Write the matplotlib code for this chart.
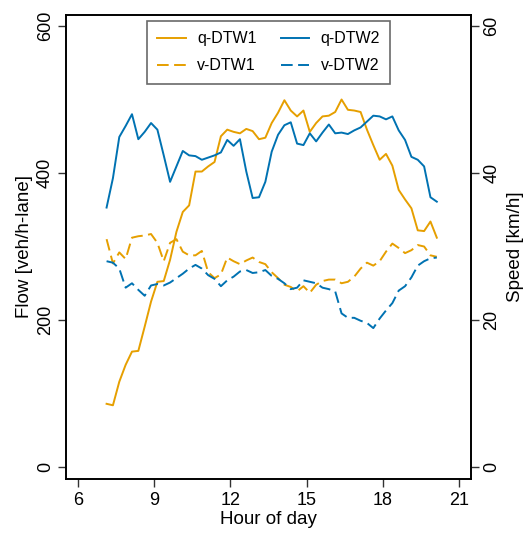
import matplotlib.pyplot as plt
import numpy as np

plt.rcParams['font.family'] = ['Liberation Sans', 'DejaVu Sans']

# 15-minute bins from 7:00 to 20:15, plotted at the bin midpoints
hours = 7.125 + np.arange(53) * 0.25

# flow [veh/h-lane]
q_dtw1 = [86, 84, 116, 139, 157, 158, 191, 225, 252, 253, 282, 320, 347, 356,
          402, 402, 409, 415, 450, 459, 456, 454, 460, 457, 446, 448, 468, 482,
          499, 485, 477, 485, 456, 468, 477, 478, 483, 500, 486, 485, 483, 459,
          438, 418, 426, 410, 377, 364, 352, 322, 321, 334, 312]
q_dtw2 = [353, 393, 449, 464, 480, 446, 456, 468, 459, 424, 388, 409, 430, 424,
          423, 418, 421, 424, 428, 445, 437, 446, 402, 366, 367, 388, 429, 452,
          465, 469, 440, 438, 454, 443, 455, 466, 454, 455, 453, 458, 462, 470,
          478, 477, 473, 477, 458, 445, 422, 418, 409, 367, 361]

# speed [km/h]
v_dtw1 = [31.0, 27.7, 29.2, 28.3, 31.2, 31.4, 31.5, 31.7, 30.5, 28.0, 30.5,
          31.0, 29.3, 28.8, 28.8, 29.4, 26.5, 25.7, 26.2, 28.5, 28.0, 27.6,
          28.1, 28.5, 27.9, 27.6, 26.5, 25.7, 24.8, 24.5, 23.9, 24.6, 23.7,
          24.8, 25.3, 25.5, 25.5, 25.0, 25.2, 25.9, 27.0, 27.8, 27.4, 28.0,
          29.3, 30.4, 29.8, 29.1, 29.5, 30.2, 30.0, 28.8, 28.6]
v_dtw2 = [28.0, 27.8, 27.0, 24.4, 25.0, 24.1, 23.3, 24.7, 24.9, 24.7, 25.1,
          25.7, 26.3, 27.0, 27.5, 27.0, 26.1, 25.6, 24.6, 25.4, 25.9, 26.6,
          26.8, 26.4, 26.5, 26.8, 26.0, 25.6, 25.0, 24.2, 24.4, 25.4, 25.2,
          25.0, 24.4, 24.2, 23.9, 20.9, 20.3, 20.3, 19.9, 19.6, 18.9, 20.2,
          21.3, 22.3, 24.0, 24.6, 25.8, 27.4, 28.0, 28.4, 28.5]

orange = '#E69F00'
blue = '#0072B2'
dash = (6, 2.8)

fig = plt.figure(figsize=(5.28, 5.33), dpi=100)
ax = fig.add_axes([0.1256, 0.1013, 0.7664, 0.8706])
ax2 = ax.twinx()

l1, = ax.plot(hours, q_dtw1, color=orange, lw=1.4)
l2, = ax.plot(hours, q_dtw2, color=blue, lw=1.4)
l3, = ax2.plot(hours, v_dtw1, color=orange, lw=1.4, dashes=dash)
l4, = ax2.plot(hours, v_dtw2, color=blue, lw=1.4, dashes=dash)

ax.set_xlim(5.54, 21.47)
ax.set_ylim(-16.3, 615)
ax2.set_ylim(-1.63, 61.5)
ax.set_xticks([6, 9, 12, 15, 18, 21])
ax.set_yticks([0, 200, 400, 600])
ax2.set_yticks([0, 20, 40, 60])

for a in (ax, ax2):
    a.tick_params(labelsize=13, length=6, width=1, color='#333333')
    for s in a.spines.values():
        s.set_linewidth(1.2)
ax.tick_params(axis='y', labelrotation=90, pad=3)
ax2.tick_params(axis='y', labelrotation=90, pad=3)
for t in ax.get_yticklabels() + ax2.get_yticklabels():
    t.set_va('center')

ax.set_xlabel('Hour of day', fontsize=13.5, labelpad=1)
ax.set_ylabel('Flow [veh/h-lane]', fontsize=13.5, labelpad=3)
ax2.set_ylabel('Speed [km/h]', fontsize=13.5, rotation=90, labelpad=5)

leg = ax.legend([l1, l3, l2, l4], ['q-DTW1', 'v-DTW1', 'q-DTW2', 'v-DTW2'],
                ncol=2, loc='upper center', bbox_to_anchor=(0.5, 0.987),
                fontsize=11.5, frameon=True, fancybox=False, handlelength=1.8,
                handletextpad=0.7, columnspacing=1.5, borderpad=0.65,
                labelspacing=0.75, borderaxespad=0.0)
leg.get_frame().set_edgecolor('#444444')
leg.get_frame().set_linewidth(1.2)

fig.savefig('out.png', dpi=100)
